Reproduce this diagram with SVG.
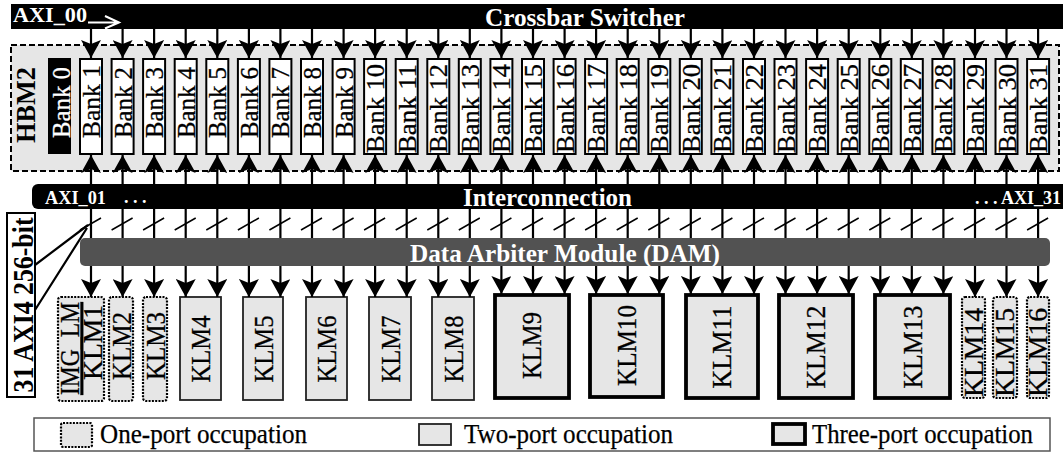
<svg xmlns="http://www.w3.org/2000/svg" width="1063" height="454" viewBox="0 0 1063 454">
<style>
.sf{font-family:"Liberation Serif","Times New Roman",serif}
.bk{fill:#fff;stroke:#000;stroke-width:2}
.bt{font-family:"Liberation Serif","Times New Roman",serif;font-size:26px;fill:#000;stroke:#000;stroke-width:0.3}
.kt{font-family:"Liberation Serif","Times New Roman",serif;font-size:27px;fill:#000;stroke:#000;stroke-width:0.3;text-anchor:middle}
.lt{font-family:"Liberation Serif","Times New Roman",serif;font-size:27px;fill:#000;stroke:#000;stroke-width:0.25}
.wb{font-family:"Liberation Serif","Times New Roman",serif;font-weight:bold;fill:#fff}
.k1{fill:#e6e6e6;stroke:#000;stroke-width:2.2;stroke-dasharray:2 1.3}
.k2{fill:#e6e6e6;stroke:#222;stroke-width:1.8}
.k3{fill:#e6e6e6;stroke:#000;stroke-width:3.8}
.ar{stroke:#000;stroke-width:2.2;fill:none;marker-end:url(#ah)}
.ln{stroke:#000;stroke-width:2.2;fill:none}
.sl{stroke:#000;stroke-width:1.5;fill:none}
</style>
<defs>
<marker id="ah" markerUnits="userSpaceOnUse" markerWidth="18" markerHeight="20" refX="18" refY="10" orient="auto" viewBox="0 0 18 20">
<path d="M0,0 L18,10 L0,20 L4,10 Z" fill="#000"/>
</marker>
</defs>
<rect width="1063" height="454" fill="#fff"/>

<g id="hbm2">
<rect x="11" y="45" width="1048" height="126" fill="#e6e6e6" stroke="#000" stroke-width="2" stroke-dasharray="6 3"/>
<text class="sf" font-weight="bold" font-size="27" text-anchor="middle" transform="translate(35,105) rotate(-90)" textLength="76" lengthAdjust="spacingAndGlyphs">HBM2</text>
</g>

<g id="crossbar">
<rect x="11" y="4" width="1052" height="25" fill="#000"/>
<text class="wb" font-size="22" x="13" y="22" textLength="74" lengthAdjust="spacingAndGlyphs">AXI_00</text>
<path d="M88 22.5H118 M105 16L119 22.5L105 28.5" stroke="#fff" stroke-width="2" fill="none"/>
<text class="wb" font-size="26" x="585" y="25.5" text-anchor="middle" textLength="200" lengthAdjust="spacingAndGlyphs">Crossbar Switcher</text>
</g>

<g id="interconnection">
<rect x="32" y="184" width="1045" height="25" rx="6" fill="#000"/>
<text class="wb" font-size="18" x="45" y="204" textLength="61" lengthAdjust="spacingAndGlyphs">AXI_01</text>
<text class="wb" font-size="18" x="124" y="203">. . .</text>
<text class="wb" font-size="25" x="547.5" y="206" text-anchor="middle" textLength="169" lengthAdjust="spacingAndGlyphs">Interconnection</text>
<text class="wb" font-size="18" x="975" y="204">. . . AXI_31</text>
</g>

<g id="dam">
<rect x="80" y="238" width="970" height="28" rx="5" fill="#525252"/>
<text class="wb" font-size="26" x="565" y="262" text-anchor="middle" textLength="310" lengthAdjust="spacingAndGlyphs">Data Arbiter Module (DAM)</text>
</g>

<g id="axi4label">
<rect x="7" y="213" width="28" height="184" fill="#fff" stroke="#000" stroke-width="2"/>
<text class="sf" font-weight="bold" font-size="30" text-anchor="middle" transform="translate(33,305) rotate(-90)" textLength="175" lengthAdjust="spacingAndGlyphs">31 AXI4 256-bit</text>
</g>

<g id="bank0"><rect x="48" y="58" width="23" height="96" fill="#000"/><text class="bt" style="fill:#fff;stroke:#fff" transform="translate(69.5,138) rotate(-90)" textLength="71" lengthAdjust="spacingAndGlyphs">Bank 0</text></g>
<g id="bank1"><rect class="bk" x="80" y="59" width="22" height="95"/><text class="bt" transform="translate(100,138) rotate(-90)" textLength="73" lengthAdjust="spacingAndGlyphs">Bank 1</text></g>
<g id="bank2"><rect class="bk" x="111.6" y="59" width="22" height="95"/><text class="bt" transform="translate(131.6,138) rotate(-90)" textLength="71" lengthAdjust="spacingAndGlyphs">Bank 2</text></g>
<g id="bank3"><rect class="bk" x="143.1" y="59" width="22" height="95"/><text class="bt" transform="translate(163.1,138) rotate(-90)" textLength="71" lengthAdjust="spacingAndGlyphs">Bank 3</text></g>
<g id="bank4"><rect class="bk" x="174.7" y="59" width="22" height="95"/><text class="bt" transform="translate(194.7,138) rotate(-90)" textLength="71" lengthAdjust="spacingAndGlyphs">Bank 4</text></g>
<g id="bank5"><rect class="bk" x="206.3" y="59" width="22" height="95"/><text class="bt" transform="translate(226.3,138) rotate(-90)" textLength="71" lengthAdjust="spacingAndGlyphs">Bank 5</text></g>
<g id="bank6"><rect class="bk" x="237.9" y="59" width="22" height="95"/><text class="bt" transform="translate(257.9,138) rotate(-90)" textLength="71" lengthAdjust="spacingAndGlyphs">Bank 6</text></g>
<g id="bank7"><rect class="bk" x="269.4" y="59" width="22" height="95"/><text class="bt" transform="translate(289.4,138) rotate(-90)" textLength="71" lengthAdjust="spacingAndGlyphs">Bank 7</text></g>
<g id="bank8"><rect class="bk" x="301" y="59" width="22" height="95"/><text class="bt" transform="translate(321,138) rotate(-90)" textLength="71" lengthAdjust="spacingAndGlyphs">Bank 8</text></g>
<g id="bank9"><rect class="bk" x="332.6" y="59" width="22" height="95"/><text class="bt" transform="translate(352.6,138) rotate(-90)" textLength="71" lengthAdjust="spacingAndGlyphs">Bank 9</text></g>
<g id="bank10"><rect class="bk" x="364.1" y="59" width="22" height="95"/><text class="bt" transform="translate(384.1,153) rotate(-90)" textLength="89" lengthAdjust="spacingAndGlyphs">Bank 10</text></g>
<g id="bank11"><rect class="bk" x="395.7" y="59" width="22" height="95"/><text class="bt" transform="translate(415.7,153) rotate(-90)" textLength="89" lengthAdjust="spacingAndGlyphs">Bank 11</text></g>
<g id="bank12"><rect class="bk" x="427.3" y="59" width="22" height="95"/><text class="bt" transform="translate(447.3,153) rotate(-90)" textLength="89" lengthAdjust="spacingAndGlyphs">Bank 12</text></g>
<g id="bank13"><rect class="bk" x="458.8" y="59" width="22" height="95"/><text class="bt" transform="translate(478.8,153) rotate(-90)" textLength="89" lengthAdjust="spacingAndGlyphs">Bank 13</text></g>
<g id="bank14"><rect class="bk" x="490.4" y="59" width="22" height="95"/><text class="bt" transform="translate(510.4,153) rotate(-90)" textLength="89" lengthAdjust="spacingAndGlyphs">Bank 14</text></g>
<g id="bank15"><rect class="bk" x="522" y="59" width="22" height="95"/><text class="bt" transform="translate(542,153) rotate(-90)" textLength="89" lengthAdjust="spacingAndGlyphs">Bank 15</text></g>
<g id="bank16"><rect class="bk" x="553.6" y="59" width="22" height="95"/><text class="bt" transform="translate(573.6,153) rotate(-90)" textLength="89" lengthAdjust="spacingAndGlyphs">Bank 16</text></g>
<g id="bank17"><rect class="bk" x="585.1" y="59" width="22" height="95"/><text class="bt" transform="translate(605.1,153) rotate(-90)" textLength="89" lengthAdjust="spacingAndGlyphs">Bank 17</text></g>
<g id="bank18"><rect class="bk" x="616.7" y="59" width="22" height="95"/><text class="bt" transform="translate(636.7,153) rotate(-90)" textLength="89" lengthAdjust="spacingAndGlyphs">Bank 18</text></g>
<g id="bank19"><rect class="bk" x="648.3" y="59" width="22" height="95"/><text class="bt" transform="translate(668.3,153) rotate(-90)" textLength="89" lengthAdjust="spacingAndGlyphs">Bank 19</text></g>
<g id="bank20"><rect class="bk" x="679.8" y="59" width="22" height="95"/><text class="bt" transform="translate(699.8,153) rotate(-90)" textLength="89" lengthAdjust="spacingAndGlyphs">Bank 20</text></g>
<g id="bank21"><rect class="bk" x="711.4" y="59" width="22" height="95"/><text class="bt" transform="translate(731.4,153) rotate(-90)" textLength="89" lengthAdjust="spacingAndGlyphs">Bank 21</text></g>
<g id="bank22"><rect class="bk" x="743" y="59" width="22" height="95"/><text class="bt" transform="translate(763,153) rotate(-90)" textLength="89" lengthAdjust="spacingAndGlyphs">Bank 22</text></g>
<g id="bank23"><rect class="bk" x="774.5" y="59" width="22" height="95"/><text class="bt" transform="translate(794.5,153) rotate(-90)" textLength="89" lengthAdjust="spacingAndGlyphs">Bank 23</text></g>
<g id="bank24"><rect class="bk" x="806.1" y="59" width="22" height="95"/><text class="bt" transform="translate(826.1,153) rotate(-90)" textLength="89" lengthAdjust="spacingAndGlyphs">Bank 24</text></g>
<g id="bank25"><rect class="bk" x="837.7" y="59" width="22" height="95"/><text class="bt" transform="translate(857.7,153) rotate(-90)" textLength="89" lengthAdjust="spacingAndGlyphs">Bank 25</text></g>
<g id="bank26"><rect class="bk" x="869.3" y="59" width="22" height="95"/><text class="bt" transform="translate(889.3,153) rotate(-90)" textLength="89" lengthAdjust="spacingAndGlyphs">Bank 26</text></g>
<g id="bank27"><rect class="bk" x="900.8" y="59" width="22" height="95"/><text class="bt" transform="translate(920.8,153) rotate(-90)" textLength="89" lengthAdjust="spacingAndGlyphs">Bank 27</text></g>
<g id="bank28"><rect class="bk" x="932.4" y="59" width="22" height="95"/><text class="bt" transform="translate(952.4,153) rotate(-90)" textLength="89" lengthAdjust="spacingAndGlyphs">Bank 28</text></g>
<g id="bank29"><rect class="bk" x="964" y="59" width="22" height="95"/><text class="bt" transform="translate(984,153) rotate(-90)" textLength="89" lengthAdjust="spacingAndGlyphs">Bank 29</text></g>
<g id="bank30"><rect class="bk" x="995.5" y="59" width="22" height="95"/><text class="bt" transform="translate(1015.5,153) rotate(-90)" textLength="89" lengthAdjust="spacingAndGlyphs">Bank 30</text></g>
<g id="bank31"><rect class="bk" x="1027.1" y="59" width="22" height="95"/><text class="bt" transform="translate(1047.1,153) rotate(-90)" textLength="89" lengthAdjust="spacingAndGlyphs">Bank 31</text></g>

<g id="klm1"><rect class="k1" x="58" y="297" width="46" height="104" rx="3"/><text class="kt" text-decoration="underline" transform="translate(78.5,348.5) rotate(-90)" textLength="93" lengthAdjust="spacingAndGlyphs">IMG_LM</text><text class="kt" transform="translate(102,342.5) rotate(-90)" textLength="75" lengthAdjust="spacingAndGlyphs">KLM1</text></g>
<g id="klm2"><rect class="k1" x="109" y="297" width="24" height="104" rx="3"/><text class="kt" transform="translate(130.5,346) rotate(-90)" textLength="68" lengthAdjust="spacingAndGlyphs">KLM2</text></g>
<g id="klm3"><rect class="k1" x="143" y="297" width="24" height="104" rx="3"/><text class="kt" transform="translate(164.5,346) rotate(-90)" textLength="68" lengthAdjust="spacingAndGlyphs">KLM3</text></g>
<g id="klm4"><rect class="k2" x="180" y="297" width="41" height="103"/><text class="kt" transform="translate(210,349) rotate(-90)" textLength="67" lengthAdjust="spacingAndGlyphs">KLM4</text></g>
<g id="klm5"><rect class="k2" x="243" y="297" width="40" height="103"/><text class="kt" transform="translate(272.5,349) rotate(-90)" textLength="67" lengthAdjust="spacingAndGlyphs">KLM5</text></g>
<g id="klm6"><rect class="k2" x="306" y="297" width="41" height="103"/><text class="kt" transform="translate(336,349) rotate(-90)" textLength="67" lengthAdjust="spacingAndGlyphs">KLM6</text></g>
<g id="klm7"><rect class="k2" x="369" y="297" width="42" height="103"/><text class="kt" transform="translate(399.5,349) rotate(-90)" textLength="67" lengthAdjust="spacingAndGlyphs">KLM7</text></g>
<g id="klm8"><rect class="k2" x="432" y="297" width="42" height="103"/><text class="kt" transform="translate(462.5,349) rotate(-90)" textLength="67" lengthAdjust="spacingAndGlyphs">KLM8</text></g>
<g id="klm9"><rect class="k3" x="495" y="295" width="74" height="103"/><text class="kt" transform="translate(541,345.5) rotate(-90)" textLength="67" lengthAdjust="spacingAndGlyphs">KLM9</text></g>
<g id="klm10"><rect class="k3" x="590" y="295" width="73" height="102"/><text class="kt" transform="translate(635.5,345.5) rotate(-90)" textLength="81" lengthAdjust="spacingAndGlyphs">KLM10</text></g>
<g id="klm11"><rect class="k3" x="686" y="295" width="72" height="103"/><text class="kt" transform="translate(731,347) rotate(-90)" textLength="83" lengthAdjust="spacingAndGlyphs">KLM11</text></g>
<g id="klm12"><rect class="k3" x="779" y="295" width="74" height="103"/><text class="kt" transform="translate(825,347) rotate(-90)" textLength="83" lengthAdjust="spacingAndGlyphs">KLM12</text></g>
<g id="klm13"><rect class="k3" x="875" y="295" width="75" height="103"/><text class="kt" transform="translate(921.5,347) rotate(-90)" textLength="83" lengthAdjust="spacingAndGlyphs">KLM13</text></g>
<g id="klm14"><rect class="k1" x="962" y="297" width="23" height="101" rx="3"/><text class="kt" transform="translate(983,352.5) rotate(-90)" textLength="89" lengthAdjust="spacingAndGlyphs">KLM14</text></g>
<g id="klm15"><rect class="k1" x="993" y="297" width="24" height="101" rx="3"/><text class="kt" transform="translate(1014,352.5) rotate(-90)" textLength="89" lengthAdjust="spacingAndGlyphs">KLM15</text></g>
<g id="klm16"><rect class="k1" x="1027" y="297" width="22" height="101" rx="3"/><text class="kt" transform="translate(1047,352.5) rotate(-90)" textLength="89" lengthAdjust="spacingAndGlyphs">KLM16</text></g>

<g id="connectors">
<g id="crossbar-to-banks">
<path class="ar" d="M91 29V58"/><path class="ar" d="M122.6 29V58"/><path class="ar" d="M154.1 29V58"/><path class="ar" d="M185.7 29V58"/><path class="ar" d="M217.3 29V58"/><path class="ar" d="M248.9 29V58"/><path class="ar" d="M280.4 29V58"/><path class="ar" d="M312 29V58"/><path class="ar" d="M343.6 29V58"/><path class="ar" d="M375.1 29V58"/><path class="ar" d="M406.7 29V58"/><path class="ar" d="M438.3 29V58"/><path class="ar" d="M469.8 29V58"/><path class="ar" d="M501.4 29V58"/><path class="ar" d="M533 29V58"/><path class="ar" d="M564.6 29V58"/><path class="ar" d="M596.1 29V58"/><path class="ar" d="M627.7 29V58"/><path class="ar" d="M659.3 29V58"/><path class="ar" d="M690.8 29V58"/><path class="ar" d="M722.4 29V58"/><path class="ar" d="M754 29V58"/><path class="ar" d="M785.5 29V58"/><path class="ar" d="M817.1 29V58"/><path class="ar" d="M848.7 29V58"/><path class="ar" d="M880.3 29V58"/><path class="ar" d="M911.8 29V58"/><path class="ar" d="M943.4 29V58"/><path class="ar" d="M975 29V58"/><path class="ar" d="M1006.5 29V58"/><path class="ar" d="M1038.1 29V58"/>
</g>
<g id="interconnection-to-banks">
<path class="ar" d="M91 184V155"/><path class="ar" d="M122.6 184V155"/><path class="ar" d="M154.1 184V155"/><path class="ar" d="M185.7 184V155"/><path class="ar" d="M217.3 184V155"/><path class="ar" d="M248.9 184V155"/><path class="ar" d="M280.4 184V155"/><path class="ar" d="M312 184V155"/><path class="ar" d="M343.6 184V155"/><path class="ar" d="M375.1 184V155"/><path class="ar" d="M406.7 184V155"/><path class="ar" d="M438.3 184V155"/><path class="ar" d="M469.8 184V155"/><path class="ar" d="M501.4 184V155"/><path class="ar" d="M533 184V155"/><path class="ar" d="M564.6 184V155"/><path class="ar" d="M596.1 184V155"/><path class="ar" d="M627.7 184V155"/><path class="ar" d="M659.3 184V155"/><path class="ar" d="M690.8 184V155"/><path class="ar" d="M722.4 184V155"/><path class="ar" d="M754 184V155"/><path class="ar" d="M785.5 184V155"/><path class="ar" d="M817.1 184V155"/><path class="ar" d="M848.7 184V155"/><path class="ar" d="M880.3 184V155"/><path class="ar" d="M911.8 184V155"/><path class="ar" d="M943.4 184V155"/><path class="ar" d="M975 184V155"/><path class="ar" d="M1006.5 184V155"/><path class="ar" d="M1038.1 184V155"/>
</g>
<g id="interconnection-to-dam">
<path class="ln" d="M91 209V238M122.6 209V238M154.1 209V238M185.7 209V238M217.3 209V238M248.9 209V238M280.4 209V238M312 209V238M343.6 209V238M375.1 209V238M406.7 209V238M438.3 209V238M469.8 209V238M501.4 209V238M533 209V238M564.6 209V238M596.1 209V238M627.7 209V238M659.3 209V238M690.8 209V238M722.4 209V238M754 209V238M785.5 209V238M817.1 209V238M848.7 209V238M880.3 209V238M911.8 209V238M943.4 209V238M975 209V238M1006.5 209V238M1038.1 209V238"/>
<path class="sl" d="M80 230l21-12M111.6 230l21-12M143.1 230l21-12M174.7 230l21-12M206.3 230l21-12M237.9 230l21-12M269.4 230l21-12M301 230l21-12M332.6 230l21-12M364.1 230l21-12M395.7 230l21-12M427.3 230l21-12M458.8 230l21-12M490.4 230l21-12M522 230l21-12M553.6 230l21-12M585.1 230l21-12M616.7 230l21-12M648.3 230l21-12M679.8 230l21-12M711.4 230l21-12M743 230l21-12M774.5 230l21-12M806.1 230l21-12M837.7 230l21-12M869.3 230l21-12M900.8 230l21-12M932.4 230l21-12M964 230l21-12M995.5 230l21-12M1027.1 230l21-12"/>
<path class="ln" d="M35 265L88 225M35 310L87 228"/>
</g>
<g id="dam-to-klm">
<path class="ar" d="M91 266V297"/><path class="ar" d="M122.6 266V297"/><path class="ar" d="M154.1 266V297"/><path class="ar" d="M185.7 266V297"/><path class="ar" d="M217.3 266V297"/><path class="ar" d="M248.9 266V297"/><path class="ar" d="M280.4 266V297"/><path class="ar" d="M312 266V297"/><path class="ar" d="M343.6 266V297"/><path class="ar" d="M375.1 266V297"/><path class="ar" d="M406.7 266V297"/><path class="ar" d="M438.3 266V297"/><path class="ar" d="M469.8 266V297"/><path class="ar" d="M501.4 266V294"/><path class="ar" d="M533 266V294"/><path class="ar" d="M564.6 266V294"/><path class="ar" d="M596.1 266V294"/><path class="ar" d="M627.7 266V294"/><path class="ar" d="M659.3 266V294"/><path class="ar" d="M690.8 266V294"/><path class="ar" d="M722.4 266V294"/><path class="ar" d="M754 266V294"/><path class="ar" d="M785.5 266V294"/><path class="ar" d="M817.1 266V294"/><path class="ar" d="M848.7 266V294"/><path class="ar" d="M880.3 266V294"/><path class="ar" d="M911.8 266V294"/><path class="ar" d="M943.4 266V294"/><path class="ar" d="M975 266V297"/><path class="ar" d="M1006.5 266V297"/><path class="ar" d="M1038.1 266V297"/>
</g>
</g>

<g id="legend">
<rect x="34" y="418" width="1016" height="33" fill="#fff" stroke="#555" stroke-width="1.5"/>
<rect class="k1" x="61" y="423" width="31" height="24" rx="2"/>
<text class="lt" x="100" y="443" textLength="207" lengthAdjust="spacingAndGlyphs">One-port occupation</text>
<rect class="k2" x="419" y="424" width="32" height="21"/>
<text class="lt" x="464" y="443" textLength="209" lengthAdjust="spacingAndGlyphs">Two-port occupation</text>
<rect class="k3" x="773" y="424" width="32" height="20"/>
<text class="lt" x="812" y="443" textLength="221" lengthAdjust="spacingAndGlyphs">Three-port occupation</text>
</g>
</svg>
